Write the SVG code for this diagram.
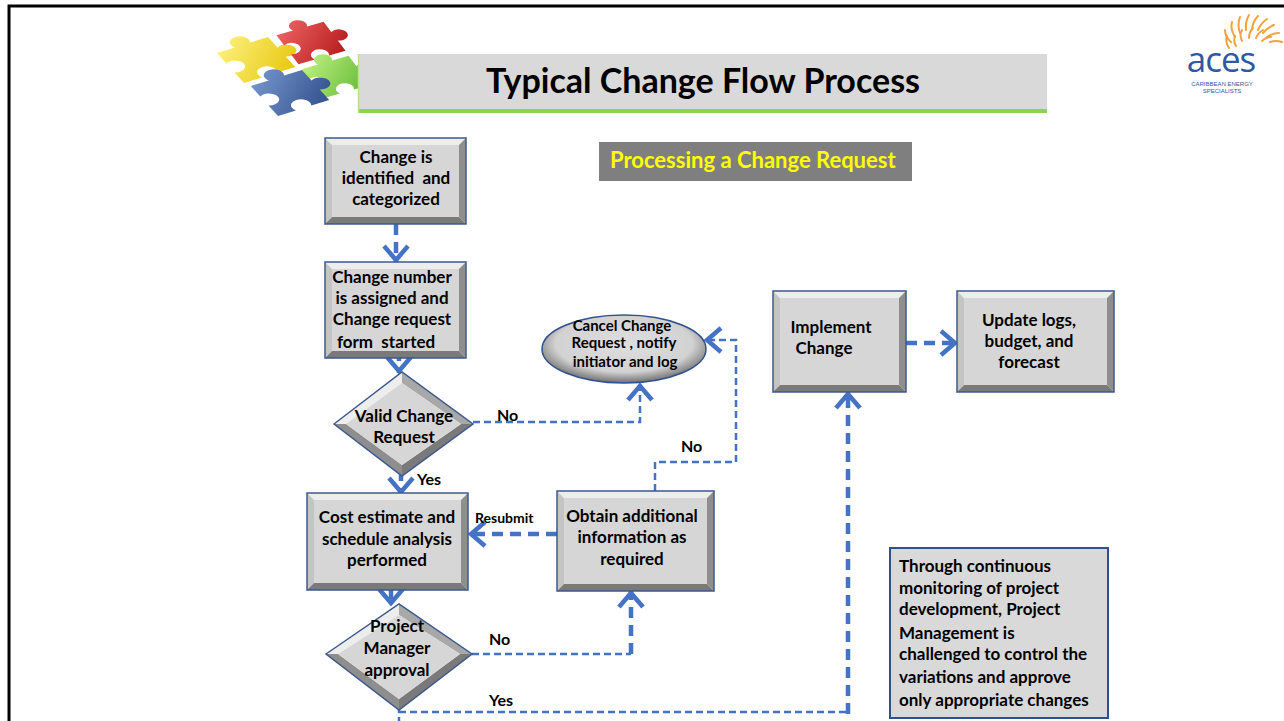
<svg xmlns="http://www.w3.org/2000/svg" width="1284" height="721" viewBox="0 0 1284 721">
  <defs>
    <style>
      .t { font-family: Lato, "Open Sans", "Liberation Sans", sans-serif; font-weight: bold; fill: #000; white-space: pre; }
      .c { text-anchor: middle; font-size: 17px; }
      .lbl { font-size: 16px; }
      .bt { fill: #ededed; }
      .bl { fill: #c4c4c4; }
      .br { fill: #8e8e8e; }
      .bb { fill: #7a7a7a; }
      .face { fill: #d6d6d6; }
      .edge { fill: none; stroke: #3c5a8c; stroke-width: 1.5; }
      .thick { fill: none; stroke: #4472c4; stroke-width: 4.5; stroke-dasharray: 11 7; }
      .thin { fill: none; stroke: #4472c4; stroke-width: 2.5; stroke-dasharray: 7 4; }
      .ray { fill: none; stroke: #f6a23a; stroke-width: 2; stroke-linecap: round; }
      .note { font-size: 17px; }
      .small { font-family: "Liberation Sans", sans-serif; font-size: 6px; fill: #2f57a3; text-anchor: middle; }
    </style>
    <marker id="chev" viewBox="-2 -16 24 32" refX="17" refY="0" markerWidth="24" markerHeight="32" markerUnits="userSpaceOnUse" orient="auto">
      <path d="M1,-12 L15,0 L1,12" fill="none" stroke="#4472c4" stroke-width="4.5"/>
    </marker>
    <radialGradient id="ellG" cx="50%" cy="42%" r="58%">
      <stop offset="0" stop-color="#dedede"/>
      <stop offset="0.72" stop-color="#d2d2d2"/>
      <stop offset="1" stop-color="#6f6f6f"/>
    </radialGradient>
    <linearGradient id="gY" x1="0" y1="0" x2="1" y2="1">
      <stop offset="0" stop-color="#fff58a"/><stop offset="1" stop-color="#e4c200"/>
    </linearGradient>
    <linearGradient id="gR" x1="0" y1="0" x2="1" y2="1">
      <stop offset="0" stop-color="#f26a6a"/><stop offset="1" stop-color="#b01414"/>
    </linearGradient>
    <linearGradient id="gB" x1="0" y1="0" x2="1" y2="1">
      <stop offset="0" stop-color="#7d9bd2"/><stop offset="1" stop-color="#2a4a86"/>
    </linearGradient>
    <linearGradient id="gG" x1="0" y1="0" x2="1" y2="1">
      <stop offset="0" stop-color="#c6f58a"/><stop offset="1" stop-color="#58b22a"/>
    </linearGradient>
    <path id="piece" d="M-20,-20 H-6 A7,7 0 1 1 6,-20 H20 V-6 A7,7 0 1 1 20,6 V20 H6 A7,7 0 1 0 -6,20 H-20 V6 A7,7 0 1 0 -20,-6 Z"/>
  </defs>

  <rect width="1284" height="721" fill="#ffffff"/>
  <!-- slide frame -->
  <path d="M9,721 V6 H1290" fill="none" stroke="#000" stroke-width="3"/>

  <!-- puzzle pieces -->
  <g id="puzzle">
    <use href="#piece" fill="url(#gY)" transform="translate(256,60) scale(1.45,0.85) rotate(-28)"/>
    <use href="#piece" fill="url(#gR)" transform="translate(311,43) scale(1.3,0.8) rotate(-25)"/>
    <use href="#piece" fill="url(#gG)" transform="translate(336,77) scale(1.3,0.8) rotate(-25)"/>
    <use href="#piece" fill="url(#gB)" transform="translate(290,93) scale(1.45,0.85) rotate(-28)"/>
  </g>

  <!-- title bar -->
  <g id="title">
    <rect x="358" y="54" width="689" height="57" fill="#d9d9d9"/>
    <rect x="358" y="109" width="689" height="4" fill="#92d050"/>
    <line x1="358.5" y1="54" x2="358.5" y2="113" stroke="#b8e28c" stroke-width="1.5"/>
    <text x="703" y="93" class="t" style="font-size:34px" text-anchor="middle">Typical Change Flow Process</text>
  </g>

  <!-- company logo -->
  <g id="logo">
    <g transform="translate(1255,52)">
      <path class="ray" d="M-26,-4 q-4,-6 -2,-12"/>
      <path class="ray" d="M-24,-10 q-6,-5 -6,-12"/>
      <path class="ray" d="M-20,-15 q-5,-8 -3,-15"/>
      <path class="ray" d="M-15,-19 q-3,-8 0,-16"/>
      <path class="ray" d="M-9,-22 q-1,-8 3,-15"/>
      <path class="ray" d="M-3,-23 q1,-8 6,-13"/>
      <path class="ray" d="M3,-22 q3,-7 9,-11"/>
      <path class="ray" d="M8,-19 q5,-6 11,-8"/>
      <path class="ray" d="M12,-15 q6,-4 12,-4"/>
      <path class="ray" d="M15,-10 q6,-2 12,0"/>
      <path class="ray" d="M-19,-6 q-3,-5 -1,-10"/>
      <path class="ray" d="M-13,-11 q-3,-6 0,-11"/>
      <path class="ray" d="M-6,-14 q0,-6 4,-10"/>
      <path class="ray" d="M1,-14 q2,-5 7,-8"/>
      <path class="ray" d="M7,-11 q4,-4 9,-4"/>
    </g>
    <text x="1221" y="72" text-anchor="middle" style="font-family:'Open Sans','Liberation Sans',sans-serif;font-size:35px;fill:#2f57a3;letter-spacing:-1px">aces</text>
    <text class="small" x="1222" y="86">CARIBBEAN ENERGY</text>
    <text class="small" x="1222" y="93">SPECIALISTS</text>
  </g>

  <!-- subtitle -->
  <g id="subtitle">
    <rect x="599" y="142" width="313" height="39" fill="#7f7f7f"/>
    <text x="610" y="168" class="t" style="font-size:22px;fill:#ffff00">Processing a Change Request</text>
  </g>

  <!-- connectors -->
  <g id="connectors">
    <path class="thick" d="M396,224 V262" marker-end="url(#chev)"/>
    <path class="thick" d="M399,350 V373" marker-end="url(#chev)"/>
    <path class="thick" d="M401,470 V494" marker-end="url(#chev)"/>
    <path class="thick" d="M391,588 V605" marker-end="url(#chev)"/>
    <path class="thin" d="M473,422 H640 V384" marker-end="url(#chev)"/>
    <path class="thin" d="M655,491 V462 H736 V340 H705" marker-end="url(#chev)"/>
    <path class="thick" d="M557,534 H469" marker-end="url(#chev)"/>
    <path class="thin" d="M472,654 H631"/>
    <path class="thick" d="M631,654 V591" marker-end="url(#chev)"/>
    <path class="thin" d="M399,706 V721"/>
    <path class="thin" d="M399,712 H848"/>
    <path class="thick" d="M848,714 V392" marker-end="url(#chev)"/>
    <path class="thick" d="M906,343 H957" marker-end="url(#chev)"/>
    <text x="497" y="421" class="t lbl">No</text>
    <text x="681" y="452" class="t lbl">No</text>
    <text x="417" y="485" class="t lbl">Yes</text>
    <text x="475" y="523" class="t" style="font-size:14px">Resubmit</text>
    <text x="489" y="645" class="t lbl">No</text>
    <text x="489" y="706" class="t lbl">Yes</text>
  </g>

  <!-- Change is identified -->
  <g id="n1">
    <polygon class="bt" points="325,138 466,138 459,145 332,145"/>
    <polygon class="bl" points="325,138 332,145 332,217 325,224"/>
    <polygon class="br" points="466,138 466,224 459,217 459,145"/>
    <polygon class="bb" points="325,224 466,224 459,217 332,217"/>
    <rect class="face" x="332" y="145" width="127" height="72"/>
    <rect class="edge" x="325" y="138" width="141" height="86"/>
    <text class="t c" x="396" y="163">Change is</text>
    <text class="t c" x="396" y="184">identified  and</text>
    <text class="t c" x="396" y="205">categorized</text>
  </g>

  <!-- Change number assigned -->
  <g id="n2">
    <polygon class="bt" points="325,262 466,262 459,269 332,269"/>
    <polygon class="bl" points="325,262 332,269 332,351 325,358"/>
    <polygon class="br" points="466,262 466,358 459,351 459,269"/>
    <polygon class="bb" points="325,358 466,358 459,351 332,351"/>
    <rect class="face" x="332" y="269" width="127" height="82"/>
    <rect class="edge" x="325" y="262" width="141" height="96"/>
    <text class="t c" x="392" y="283">Change number</text>
    <text class="t c" x="392" y="304">is assigned and</text>
    <text class="t c" x="392" y="325">Change request</text>
    <text class="t c" x="386" y="348">form  started</text>
  </g>

  <!-- Valid Change Request decision -->
  <g id="d1">
    <polygon class="bt" points="334,424 402,372 402,383 346,424"/>
    <polygon fill="#a8a8a8" points="402,372 473,424 461,424 402,383"/>
    <polygon class="bb" points="473,424 402,476 402,465 461,424"/>
    <polygon class="br" points="402,476 334,424 346,424 402,465"/>
    <polygon class="face" points="346,424 402,383 461,424 402,465"/>
    <polygon class="edge" points="334,424 402,372 473,424 402,476"/>
    <text class="t c" x="404" y="422">Valid Change</text>
    <text class="t c" x="404" y="443">Request</text>
  </g>

  <!-- Cancel Change Request -->
  <g id="cancel">
    <ellipse cx="624" cy="349" rx="82" ry="34" fill="url(#ellG)" stroke="#2f528f" stroke-width="1.5"/>
    <text class="t" x="622" y="331" text-anchor="middle" style="font-size:15px">Cancel Change</text>
    <text class="t" x="624" y="348" text-anchor="middle" style="font-size:15px">Request , notify</text>
    <text class="t" x="625" y="367" text-anchor="middle" style="font-size:15px">initiator and log</text>
  </g>

  <!-- Cost estimate -->
  <g id="n3">
    <polygon class="bt" points="307,493 468,493 461,500 314,500"/>
    <polygon class="bl" points="307,493 314,500 314,583 307,590"/>
    <polygon class="br" points="468,493 468,590 461,583 461,500"/>
    <polygon class="bb" points="307,590 468,590 461,583 314,583"/>
    <rect class="face" x="314" y="500" width="147" height="83"/>
    <rect class="edge" x="307" y="493" width="161" height="97"/>
    <text class="t c" x="387" y="523">Cost estimate and</text>
    <text class="t c" x="387" y="545">schedule analysis</text>
    <text class="t c" x="387" y="566">performed</text>
  </g>

  <!-- Obtain additional information -->
  <g id="n4">
    <polygon class="bt" points="557,491 714,491 707,498 564,498"/>
    <polygon class="bl" points="557,491 564,498 564,584 557,591"/>
    <polygon class="br" points="714,491 714,591 707,584 707,498"/>
    <polygon class="bb" points="557,591 714,591 707,584 564,584"/>
    <rect class="face" x="564" y="498" width="143" height="86"/>
    <rect class="edge" x="557" y="491" width="157" height="100"/>
    <text class="t c" x="632" y="522">Obtain additional</text>
    <text class="t c" x="632" y="543">information as</text>
    <text class="t c" x="632" y="565">required</text>
  </g>

  <!-- Project Manager approval decision -->
  <g id="d2">
    <polygon class="bt" points="326,654 399,604 399,615 338,654"/>
    <polygon fill="#a8a8a8" points="399,604 472,654 460,654 399,615"/>
    <polygon class="bb" points="472,654 399,710 399,699 460,654"/>
    <polygon class="br" points="399,710 326,654 338,654 399,699"/>
    <polygon class="face" points="338,654 399,615 460,654 399,699"/>
    <polygon class="edge" points="326,654 399,604 472,654 399,710"/>
    <text class="t c" x="397" y="632">Project</text>
    <text class="t c" x="397" y="654">Manager</text>
    <text class="t c" x="397" y="676">approval</text>
  </g>

  <!-- Implement Change -->
  <g id="n5">
    <polygon class="bt" points="773,291 906,291 899,298 780,298"/>
    <polygon class="bl" points="773,291 780,298 780,385 773,392"/>
    <polygon class="br" points="906,291 906,392 899,385 899,298"/>
    <polygon class="bb" points="773,392 906,392 899,385 780,385"/>
    <rect class="face" x="780" y="298" width="119" height="87"/>
    <rect class="edge" x="773" y="291" width="133" height="101"/>
    <text class="t c" x="831" y="333">Implement</text>
    <text class="t c" x="824" y="354">Change</text>
  </g>

  <!-- Update logs -->
  <g id="n6">
    <polygon class="bt" points="957,291 1114,291 1107,298 964,298"/>
    <polygon class="bl" points="957,291 964,298 964,385 957,392"/>
    <polygon class="br" points="1114,291 1114,392 1107,385 1107,298"/>
    <polygon class="bb" points="957,392 1114,392 1107,385 964,385"/>
    <rect class="face" x="964" y="298" width="143" height="87"/>
    <rect class="edge" x="957" y="291" width="157" height="101"/>
    <text class="t c" x="1029" y="326">Update logs,</text>
    <text class="t c" x="1029" y="347">budget, and</text>
    <text class="t c" x="1029" y="368">forecast</text>
  </g>

  <!-- side note -->
  <g id="note">
    <rect x="890" y="548" width="218" height="170" fill="#d9d9d9" stroke="#2f528f" stroke-width="2"/>
    <text class="t note" x="899" y="572">Through continuous</text>
    <text class="t note" x="899" y="594">monitoring of project</text>
    <text class="t note" x="899" y="615">development, Project</text>
    <text class="t note" x="899" y="639">Management is</text>
    <text class="t note" x="899" y="660">challenged to control the</text>
    <text class="t note" x="899" y="683">variations and approve</text>
    <text class="t note" x="899" y="706">only appropriate changes</text>
  </g>
</svg>
